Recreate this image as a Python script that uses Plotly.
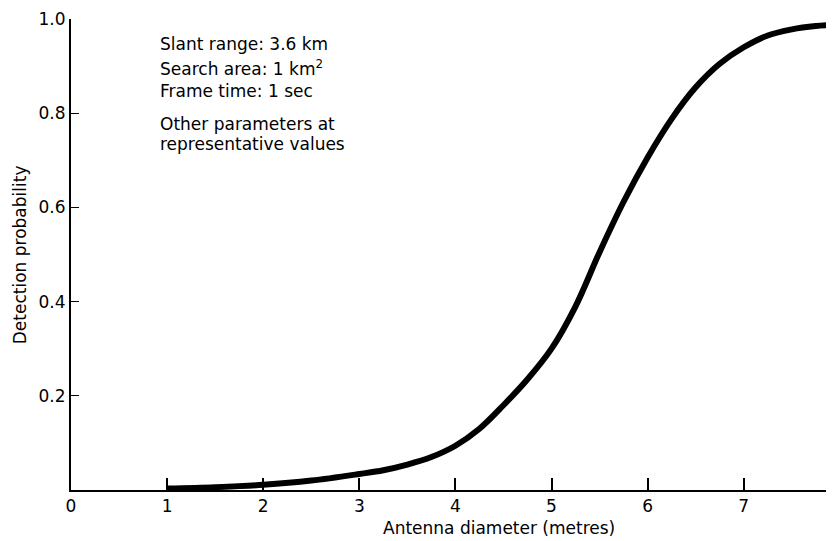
import plotly.graph_objects as go

# Data
diameter_m = [1.0, 1.5, 2.0, 2.5, 3.0, 3.25, 3.5, 3.75, 4.0, 4.25, 4.5, 4.75, 5.0,
              5.25, 5.5, 5.75, 6.0, 6.25, 6.5, 6.75, 7.0, 7.25, 7.5, 7.75, 8.0]
detection_prob = [0.003, 0.006, 0.011, 0.020, 0.034, 0.042, 0.054, 0.070, 0.094,
                  0.130, 0.180, 0.235, 0.300, 0.390, 0.505, 0.612, 0.706, 0.788,
                  0.855, 0.905, 0.940, 0.965, 0.978, 0.985, 0.988]

x_tick_vals = [0, 1, 2, 3, 4, 5, 6, 7, 8]
x_tick_text = ["0", "1", "2", "3", "4", "5", "6", "7", "8"]
y_tick_vals = [0.2, 0.4, 0.6, 0.8, 1.0]
y_tick_text = ["0.2", "0.4", "0.6", "0.8", "1.0"]

note_lines = ["Slant range: 3.6 km", "Search area: 1 km<sup>2</sup>", "Frame time: 1 sec",
              "Other parameters at", "representative values"]
note_y = [0.946, 0.897, 0.848, 0.777, 0.734]

x_title = "Antenna diameter (metres)"
y_title = "Detection probability"

FONT = "DejaVu Sans, Noto Sans, sans-serif"

fig = go.Figure()
fig.add_trace(go.Scatter(x=diameter_m, y=detection_prob, mode="lines",
                         line=dict(color="black", width=6, shape="spline", smoothing=1.0),
                         hoverinfo="skip", showlegend=False))

for txt, yy in zip(note_lines, note_y):
    fig.add_annotation(x=0.91, y=yy, xref="x", yref="paper", text=txt, showarrow=False,
                       xanchor="left", yanchor="middle", align="left",
                       font=dict(family=FONT, size=17, color="black"))

fig.add_annotation(x=4.45, y=-0.081, xref="x", yref="paper", text=x_title, showarrow=False,
                   xanchor="center", yanchor="middle",
                   font=dict(family=FONT, size=17, color="black"))
fig.add_annotation(x=-0.066, y=0.5, xref="paper", yref="paper", text=y_title,
                   showarrow=False, textangle=-90, xanchor="center", yanchor="middle",
                   font=dict(family=FONT, size=17, color="black"))

# page has an 8px body margin, so figure is sized/offset to place the plot correctly
fig.update_layout(
    width=840, height=533,
    margin=dict(l=63, r=0, t=11, b=51),
    paper_bgcolor="white", plot_bgcolor="white",
    font=dict(family=FONT, size=17, color="black"),
    showlegend=False,
)
fig.update_xaxes(range=[0, 8.085], tickvals=x_tick_vals, ticktext=x_tick_text,
                 showgrid=False, zeroline=False, showline=True, linecolor="black", linewidth=2,
                 ticks="inside", ticklen=12, tickwidth=1.5, tickcolor="black",
                 tickfont=dict(size=17))
fig.update_yaxes(range=[0, 1.0], tickvals=y_tick_vals, ticktext=y_tick_text,
                 showgrid=False, zeroline=False, showline=True, linecolor="black", linewidth=2,
                 ticks="inside", ticklen=8, tickwidth=1, tickcolor="black",
                 tickfont=dict(size=17))

fig.write_html("out.html",
               post_script="document.documentElement.style.overflow='hidden';"
                           "document.body.style.overflow='hidden';")
